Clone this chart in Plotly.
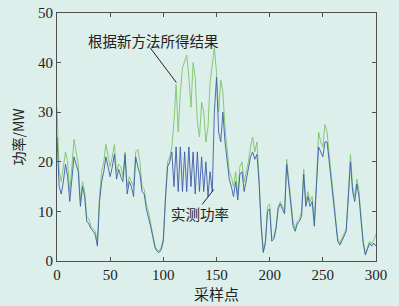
import plotly.graph_objects as go

sample_idx = list(range(0, 301, 2))

measured = [25, 15, 13.5, 16, 19.5, 17, 12, 17, 21, 19.5, 18, 11, 15, 13, 8, 7.5, 6.5, 6, 5.3, 3,
            12, 16, 18, 21, 19, 17, 19, 21.5, 16.5, 18.5, 17, 16, 21.5, 13.5, 16, 15, 13, 21, 19, 17.5,
            14, 13.5, 10.5, 9, 7, 5, 2.8, 2, 1.7, 2.3, 4, 12.5, 19, 20, 22, 15, 23, 14, 23, 14,
            22, 14, 23, 15, 22, 13.5, 22, 14, 21, 14, 20, 13, 18, 14, 30, 37, 26, 24, 30, 24,
            19.5, 16.5, 15, 13, 16, 12.3, 17.5, 18, 14, 16.4, 18, 21, 22, 20.5, 21.5, 16, 7, 1.7, 3.7, 10,
            10.5, 4, 4.5, 6.5, 10.5, 11.5, 10.4, 9.5, 19.5, 15, 12, 7, 6, 7.5, 8, 9, 17.5, 11, 13, 11,
            12, 7, 15, 23, 22, 21, 24, 24, 20, 16, 12, 7, 4, 3.2, 4, 5, 6, 12.5, 20, 14,
            12, 15.5, 13, 8, 3.5, 1.2, 2.3, 3.6, 3, 3.6, 3]

new_method = [31, 18, 16, 19, 22, 20, 14, 19, 24.5, 22, 19.5, 12, 16, 14, 9, 8.5, 7, 6.5, 6, 4,
              13, 18, 20, 23.5, 21, 19, 21, 23.5, 18, 19.5, 19, 17, 22, 15, 17, 16, 15, 22, 22.5, 20,
              15, 14.5, 11.5, 10, 7.5, 5.5, 3.2, 2.3, 2, 2.8, 4.5, 13, 20, 21, 23, 28, 35.5, 26, 34, 39,
              40.5, 41.5, 37, 31, 40, 37, 28, 25, 32, 30, 24, 27, 36, 40, 43, 38, 30, 36.5, 34, 27,
              22, 18, 17, 15, 18, 13.5, 19, 20, 16, 18, 20, 23, 25, 22, 24, 17, 7.5, 2, 4, 11,
              11.5, 4.5, 5, 7, 11, 12, 11, 10, 20.5, 16, 13, 8, 6.5, 8, 8.5, 10, 18.5, 12, 14, 12,
              13, 8, 16, 26, 24, 23, 27.5, 26, 21.5, 17, 13, 7.5, 4.5, 3.6, 4.5, 5.5, 6.5, 13.5, 21.5, 15,
              13, 16.5, 14, 9, 4, 1.5, 2.8, 4, 3.5, 4.2, 5.5]

x_ticks = [0, 50, 100, 150, 200, 250, 300]
y_ticks = [0, 10, 20, 30, 40, 50]

bg = "#ddefea"
axis_col = "#505050"
serif = "Liberation Serif, Times New Roman, serif"
cjk = "Noto Sans CJK SC, Noto Sans, sans-serif"

fig = go.Figure()
fig.add_trace(go.Scatter(x=sample_idx, y=new_method, mode="lines",
                         line=dict(color="#7cc46a", width=0.9), name="根据新方法所得结果"))
fig.add_trace(go.Scatter(x=sample_idx, y=measured, mode="lines",
                         line=dict(color="#3d5ca8", width=0.9), name="实测功率"))

axis_common = dict(showline=True, linecolor=axis_col, linewidth=1.2, mirror="ticks",
                   ticks="inside", ticklen=4, tickcolor=axis_col, showgrid=False, zeroline=False,
                   automargin=False,
                   tickfont=dict(family=serif, size=15, color="#222"))

fig.update_xaxes(range=[0, 300], tickvals=x_ticks, **axis_common,
                 title=dict(text="采样点", font=dict(family=cjk, size=15, color="#222"), standoff=0))
fig.update_yaxes(range=[0, 50], tickvals=y_ticks, **axis_common,
                 title=dict(text="功率/MW", font=dict(family=cjk, size=14, color="#222"), standoff=10))

fig.add_annotation(x=90.5, y=44.5, text="根据新方法所得结果", showarrow=False,
                   font=dict(family=cjk, size=14.5, color="#222"))
fig.add_annotation(x=134.9, y=9.6, text="实测功率", showarrow=False,
                   font=dict(family=cjk, size=14.5, color="#222"))
fig.add_shape(type="line", x0=87.6, y0=43, x1=112.2, y1=36.0,
              line=dict(color="#222", width=1))
fig.add_shape(type="line", x0=136.5, y0=11.4, x1=147.4, y1=14.4,
              line=dict(color="#222", width=1))

fig.update_layout(width=399, height=306, margin=dict(l=57, r=23, t=13, b=45),
                  paper_bgcolor=bg, plot_bgcolor=bg, showlegend=False)

fig.write_html("out.html", config={"displayModeBar": False},
               post_script="document.body.style.margin='0';document.body.style.background='#ddefea';")
